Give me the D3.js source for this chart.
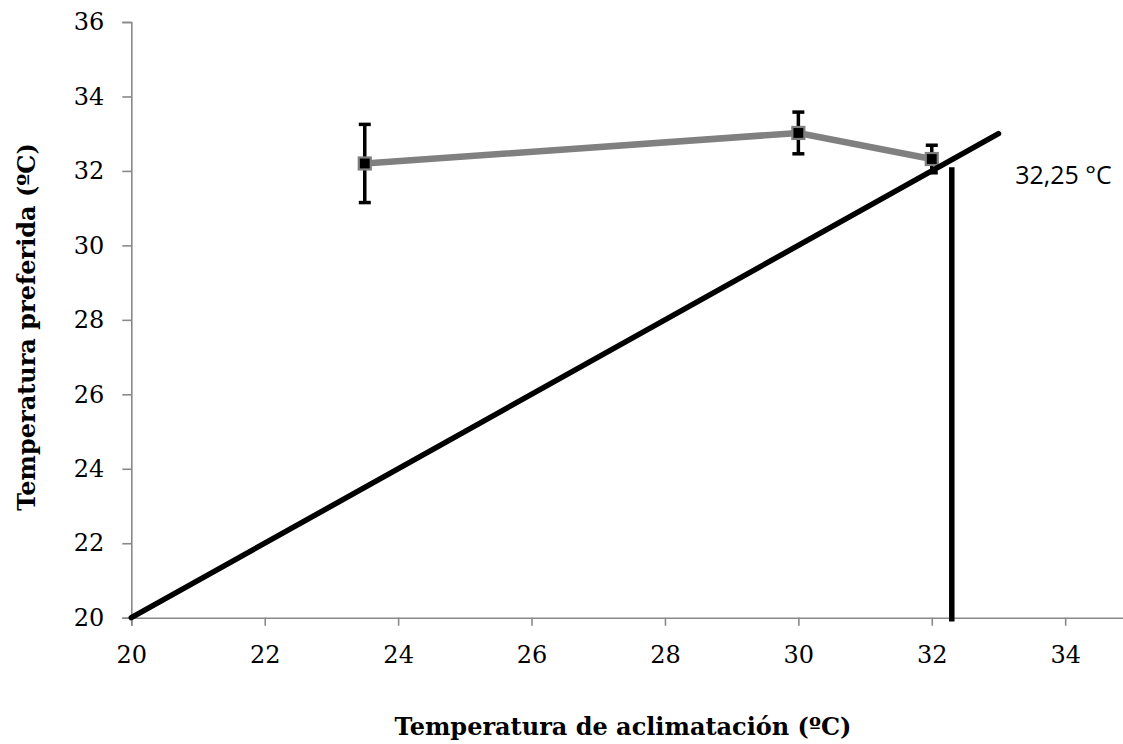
<!DOCTYPE html>
<html>
<head>
<meta charset="utf-8">
<script src="https://cdnjs.cloudflare.com/ajax/libs/d3/7.8.5/d3.min.js"></script>
<style>
    body { margin: 0; background: #fff; }
    svg { display: block; }
</style>
</head>
<body>
<div id="chart"></div>
<script>
// acclimation temperature vs preferred temperature
var acclim = [23.5, 30, 32];
var preferred = [32.2, 33.02, 32.32];
var errors = [1.05, 0.56, 0.37];

var xTicks = [20, 22, 24, 26, 28, 30, 32, 34];
var yTicks = [20, 22, 24, 26, 28, 30, 32, 34, 36];

// line of equality and the cut-off
var equalityX = [20, 33];
var equalityY = [20, 33];
var cutX = 32.3;
var cutY = [19.9, 32.1];
var cutLabel = "32,25 °C";

var xTitle = "Temperatura de aclimatación (ºC)";
var yTitle = "Temperatura preferida (ºC)";

var W = 1123, H = 744;

var svg = d3.select("#chart").append("svg")
    .attr("width", W)
    .attr("height", H);

var x = d3.scaleLinear()
    .domain([20, 36])
    .range([131.3, 1198.6]);

var y = d3.scaleLinear()
    .domain([20, 36])
    .range([617.7, 22]);

var axisColor = "#898989";
var serif = "'DejaVu Serif', serif";

//x-axis
var xAxisCall = d3.axisBottom(x)
    .tickValues(xTicks)
    .tickSize(8)
    .tickPadding(20)
    .tickFormat(d3.format("d"));
var gx = svg.append("g")
    .attr("class", "x-axis")
    .attr("transform", "translate(0," + y(20) + ")")
    .call(xAxisCall);

//y-axis
var yAxisCall = d3.axisLeft(y)
    .tickValues(yTicks)
    .tickSize(9)
    .tickPadding(18)
    .tickFormat(d3.format("d"));
var gy = svg.append("g")
    .attr("class", "y-axis")
    .attr("transform", "translate(" + x(20) + ",0)")
    .call(yAxisCall);

[gx, gy].forEach(function (g) {
    g.select(".domain").attr("stroke", axisColor).attr("stroke-width", 1.6);
    g.selectAll(".tick line").attr("stroke", axisColor).attr("stroke-width", 1.6);
    g.selectAll(".tick text")
        .attr("fill", "#000")
        .style("font-family", serif)
        .style("font-size", "24px");
});

// axis titles
svg.append("text")
    .attr("x", 623)
    .attr("y", 735)
    .attr("text-anchor", "middle")
    .style("font-family", serif)
    .style("font-weight", "bold")
    .style("font-size", "24px")
    .text(xTitle);

svg.append("text")
    .attr("transform", "translate(35," + 327 + ") rotate(-90)")
    .attr("text-anchor", "middle")
    .style("font-family", serif)
    .style("font-weight", "bold")
    .style("font-size", "24px")
    .text(yTitle);

var pts = acclim.map(function (d, i) {
    return { x: d, y: preferred[i], e: errors[i] };
});

// error bars
var eb = svg.append("g").attr("class", "errors");
pts.forEach(function (d) {
    eb.append("line")
        .attr("x1", x(d.x)).attr("x2", x(d.x))
        .attr("y1", y(d.y - d.e)).attr("y2", y(d.y + d.e))
        .attr("stroke", "#000").attr("stroke-width", 3.5);
    [d.y - d.e, d.y + d.e].forEach(function (v) {
        eb.append("line")
            .attr("x1", x(d.x) - 6).attr("x2", x(d.x) + 6)
            .attr("y1", y(v)).attr("y2", y(v))
            .attr("stroke", "#000").attr("stroke-width", 3.5);
    });
});

// series line
var valueline = d3.line()
    .x(function (d) { return x(d.x); })
    .y(function (d) { return y(d.y); });

svg.append("path")
    .datum(pts)
    .attr("d", valueline)
    .attr("fill", "none")
    .attr("stroke", "#808080")
    .attr("stroke-width", 6.5);

svg.selectAll("rect.marker")
    .data(pts)
    .enter()
    .append("rect")
    .attr("class", "marker")
    .attr("x", function (d) { return x(d.x) - 6; })
    .attr("y", function (d) { return y(d.y) - 6; })
    .attr("width", 12)
    .attr("height", 12)
    .attr("fill", "#000")
    .attr("stroke", "#808080")
    .attr("stroke-width", 2.2);

// line of equality
svg.append("line")
    .attr("x1", x(equalityX[0])).attr("y1", y(equalityY[0]))
    .attr("x2", x(equalityX[1])).attr("y2", y(equalityY[1]))
    .attr("stroke", "#000")
    .attr("stroke-width", 5.5)
    .attr("stroke-linecap", "round");

// cut-off line
svg.append("line")
    .attr("x1", x(cutX)).attr("x2", x(cutX))
    .attr("y1", y(cutY[0])).attr("y2", y(cutY[1]))
    .attr("stroke", "#000")
    .attr("stroke-width", 5.5);

svg.append("text")
    .attr("x", x(33.25))
    .attr("y", y(31.65))
    .style("font-family", "'Open Sans', sans-serif")
    .style("font-size", "25px")
    .attr("fill", "#000")
    .text(cutLabel);
</script>
</body>
</html>
